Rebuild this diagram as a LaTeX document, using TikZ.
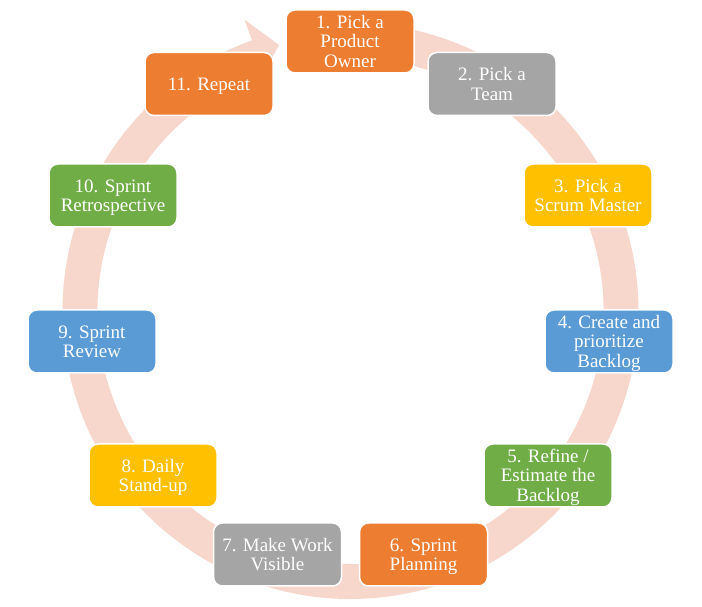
\documentclass[tikz,border=0pt]{standalone}
\usepackage{fontspec}
\setmainfont{Liberation Serif}
\definecolor{ringpink}{RGB}{247,214,204}
\definecolor{oorange}{RGB}{237,125,49}
\definecolor{ogray}{RGB}{165,165,165}
\definecolor{oyellow}{RGB}{255,192,0}
\definecolor{oblue}{RGB}{91,155,213}
\definecolor{ogreen}{RGB}{112,173,71}
\newcommand\Ts{\rule{0pt}{16.9pt}}
\newcommand\Bs{\rule[-4.2pt]{0pt}{4.2pt}}
\tikzset{
  stepbox/.style={rounded corners=9pt, draw=white, line width=1.5pt,
    minimum width=128pt, minimum height=63pt, inner sep=0pt,
    align=center, text=white, font=\fontsize{19}{19.5}\selectfont},
}
\begin{document}
\begin{tikzpicture}[x=1pt,y=1pt]
\useasboundingbox (0,0) rectangle (702,607);
% ring arrow
\begin{scope}[shift={(350.5,296)}]
  \coordinate (tip) at (-71.5,266);
  \fill[ringpink] (95:288) arc[start angle=95, end angle=-250, radius=288]
    -- (110:310) -- (tip) -- (110:253)
    arc[start angle=-250, end angle=95, radius=253] -- cycle;
\end{scope}
% boxes
\node[stepbox, fill=oorange] (b1) at (350,565.5) {\Ts 1. Pick a\\Product\\Owner\Bs};
\node[stepbox, fill=ogray] (b2) at (492,523) {\Ts 2. Pick a\\Team\Bs};
\node[stepbox, fill=oyellow] (b3) at (588,411.5) {\Ts 3. Pick a\\Scrum Master\Bs};
\node[stepbox, fill=oblue] (b4) at (609,265.5) {\Ts 4. Create and\\prioritize\\Backlog\Bs};
\node[stepbox, fill=ogreen] (b5) at (548,131.5) {\Ts 5. Refine /\\Estimate the\\Backlog\Bs};
\node[stepbox, fill=oorange] (b6) at (423.5,52.5) {\Ts 6. Sprint\\Planning\Bs};
\node[stepbox, fill=ogray] (b7) at (277.5,52.5) {\Ts 7. Make Work\\Visible\Bs};
\node[stepbox, fill=oyellow] (b8) at (153,131.5) {\Ts 8. Daily\\Stand-up\Bs};
\node[stepbox, fill=oblue] (b9) at (92,265.5) {\Ts 9. Sprint\\Review\Bs};
\node[stepbox, fill=ogreen] (b10) at (113,411.5) {\Ts 10. Sprint\\Retrospective\Bs};
\node[stepbox, fill=oorange] (b11) at (209,523) {\Ts 11. Repeat\Bs};
\end{tikzpicture}
\end{document}
